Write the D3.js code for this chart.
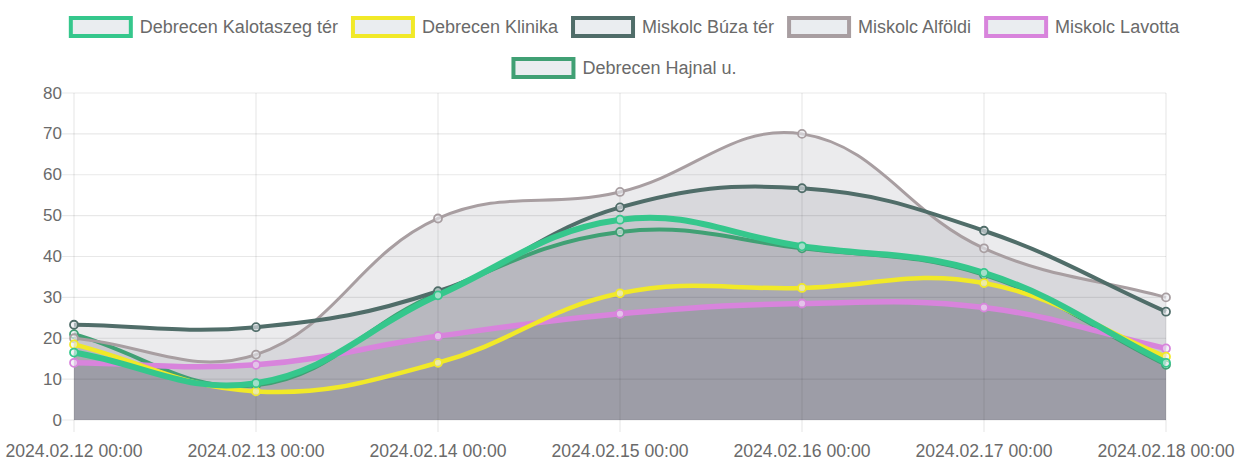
<!DOCTYPE html>
<html><head><meta charset="utf-8">
<script src="https://cdn.jsdelivr.net/npm/d3@7"></script>
<style>
body{margin:0;background:#fff}
text{font-family:"Liberation Sans",Arial,Helvetica,sans-serif;fill:#6a6a6a}
</style>
</head><body>
<svg id="c" width="1246" height="468"></svg>
<script>
// ---- data ----
const categories = ["2024.02.12 00:00","2024.02.13 00:00","2024.02.14 00:00","2024.02.15 00:00","2024.02.16 00:00","2024.02.17 00:00","2024.02.18 00:00"];
const seriesNames = ["Debrecen Kalotaszeg tér","Debrecen Klinika","Miskolc Búza tér","Miskolc Alföldi","Miskolc Lavotta","Debrecen Hajnal u."];
const kalotaszeg = [16.5, 9, 30.5, 49, 42.5, 36, 14];
const klinika    = [18.5, 7, 14, 31, 32.3, 33.5, 15.5];
const buza       = [23.3, 22.7, 31.5, 52, 56.7, 46.3, 26.5];
const alfoldi    = [20, 16, 49.3, 55.8, 70, 42, 30];
const lavotta    = [14, 13.5, 20.5, 26, 28.5, 27.5, 17.5];
const hajnal     = [21, 8.5, 31, 46, 42, 35.5, 13.5];
const yTicks = [0,10,20,30,40,50,60,70,80];

const seriesValues = [kalotaszeg, klinika, buza, alfoldi, lavotta, hajnal];
const colors = ["#35c78c","#f1e928","#506d69","#a89ea1","#d884dc","#40a074"];
const widths = [6, 4.5, 4, 3, 5.5, 4];
const fillColor = "rgba(30,38,50,0.09)";

// ---- layout ----
const svg = d3.select("#c");
const pL = 74, pR = 1166, pT = 93, pB = 420;
const x = d3.scalePoint().domain(categories).range([pL, pR]);
const y = d3.scaleLinear().domain([0, 80]).range([pB, pT]);

// grid
const grid = svg.append("g");
grid.selectAll("line.h").data(yTicks).join("line")
  .attr("x1", pL - 12).attr("x2", pR).attr("y1", d => y(d)).attr("y2", d => y(d))
  .attr("stroke", "rgba(0,0,0,0.09)").attr("stroke-width", 1.2);
grid.selectAll("line.v").data(categories).join("line")
  .attr("x1", d => x(d)).attr("x2", d => x(d)).attr("y1", pT).attr("y2", pB + 12)
  .attr("stroke", "rgba(0,0,0,0.09)").attr("stroke-width", 1.2);

// axes labels
svg.append("g").selectAll("text").data(yTicks).join("text")
  .attr("x", 62).attr("y", d => y(d)).attr("text-anchor", "end")
  .attr("dominant-baseline", "central").style("font-size", "17px").text(d => d);
svg.append("g").selectAll("text").data(categories).join("text")
  .attr("x", d => x(d)).attr("y", 457).attr("text-anchor", "middle")
  .style("font-size", "17.6px").text(d => d);

// Chart.js style spline
function splinePath(pts, t) {
  const cps = pts.map((p, i) => {
    const prev = pts[i-1] || p, next = pts[i+1] || p;
    const d01 = Math.hypot(p[0]-prev[0], p[1]-prev[1]);
    const d12 = Math.hypot(next[0]-p[0], next[1]-p[1]);
    let s01 = d01/(d01+d12), s12 = d12/(d01+d12);
    if (!isFinite(s01)) s01 = 0; if (!isFinite(s12)) s12 = 0;
    const fa = t*s01, fb = t*s12;
    const cl = v => Math.max(pT, Math.min(pB, v));
    return {
      p: [p[0] - fa*(next[0]-prev[0]), cl(p[1] - fa*(next[1]-prev[1]))],
      n: [p[0] + fb*(next[0]-prev[0]), cl(p[1] + fb*(next[1]-prev[1]))]
    };
  });
  let d = "M" + pts[0][0] + "," + pts[0][1];
  for (let i = 1; i < pts.length; i++) {
    d += "C" + cps[i-1].n.join(",") + " " + cps[i].p.join(",") + " " + pts[i].join(",");
  }
  return d;
}

const seriesPts = seriesValues.map(vals => vals.map((v, i) => [x(categories[i]), y(v)]));

// fills first (reverse order)
const fills = svg.append("g");
for (let s = seriesPts.length - 1; s >= 0; s--) {
  const pts = seriesPts[s];
  fills.append("path")
    .attr("d", splinePath(pts, 0.4) + "L" + pts[pts.length-1][0] + "," + y(0) + "L" + pts[0][0] + "," + y(0) + "Z")
    .attr("fill", fillColor);
}
// lines + points (reverse order so first dataset is on top)
const lines = svg.append("g");
for (let s = seriesPts.length - 1; s >= 0; s--) {
  const pts = seriesPts[s];
  lines.append("path").attr("d", splinePath(pts, 0.4))
    .attr("fill", "none").attr("stroke", colors[s]).attr("stroke-width", widths[s])
    .attr("stroke-linejoin", "round");
  lines.append("g").selectAll("circle").data(pts).join("circle")
    .attr("cx", d => d[0]).attr("cy", d => d[1]).attr("r", 4)
    .attr("fill", "rgba(235,237,241,0.6)").attr("stroke", colors[s]).attr("stroke-width", 1.8);
}

// legend
const rows = [[0,1,2,3,4],[5]];
const rowY = [27, 68];
const boxW = 60, boxH = 18, gapT = 9, itemGap = 15;
rows.forEach((row, r) => {
  const g = svg.append("g");
  const items = row.map(i => {
    const it = g.append("g");
    it.append("rect").attr("width", boxW).attr("height", boxH)
      .attr("fill", "rgba(234,237,240,1)").attr("stroke", colors[i]).attr("stroke-width", 4);
    const t = it.append("text").attr("x", boxW + gapT).attr("y", boxH/2)
      .attr("dominant-baseline", "central").style("font-size", "18px").text(seriesNames[i]);
    const w = boxW + gapT + t.node().getComputedTextLength();
    return {it, w};
  });
  const total = d3.sum(items, d => d.w) + itemGap * items.length;
  let cx = 623 - total/2 + itemGap/2 + 2;
  items.forEach(d => {
    d.it.attr("transform", `translate(${cx},${rowY[r] - boxH/2})`);
    cx += d.w + itemGap;
  });
});
</script>
</body></html>
